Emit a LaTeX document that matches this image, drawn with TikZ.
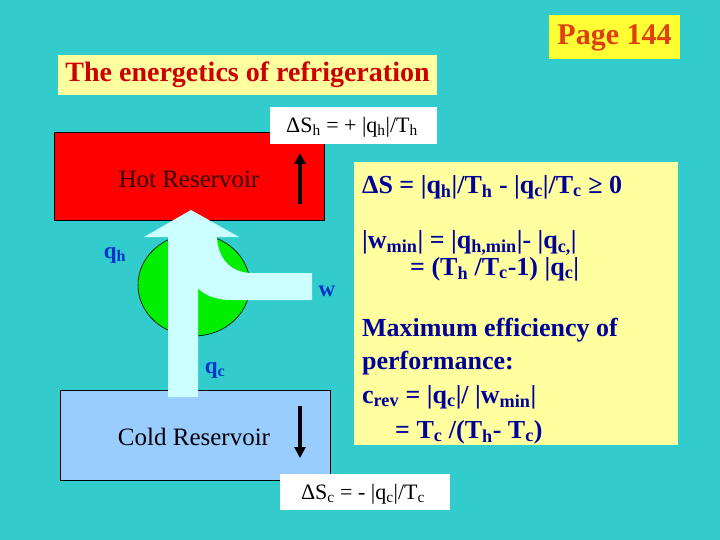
\documentclass[tikz,border=0pt]{standalone}
\usepackage{fontspec}
\setmainfont{Liberation Serif}
\usetikzlibrary{arrows.meta}
\definecolor{bgteal}{HTML}{33CCCC}
\definecolor{hotred}{HTML}{FF0000}
\definecolor{coldblue}{HTML}{99CCFF}
\definecolor{engreen}{HTML}{00EE00}
\definecolor{flowcyan}{HTML}{CCFFFF}
\definecolor{paleyel}{HTML}{FFFFA0}
\definecolor{pageyel}{HTML}{FFFF33}
\definecolor{titlered}{HTML}{CC0000}
\definecolor{pageorange}{HTML}{E04010}
\definecolor{labelblue}{HTML}{0033CC}
\definecolor{eqblue}{HTML}{000099}
\definecolor{hottext}{HTML}{330000}
\newcommand{\sbx}[1]{\textsubscript{#1}}
\tikzset{
  eqline/.style={anchor=west, inner sep=0pt, text=eqblue, font=\bfseries\fontsize{26}{30}\selectfont},
  flowlabel/.style={inner sep=0pt, text=labelblue, font=\bfseries\fontsize{23}{27}\selectfont},
  reslabel/.style={inner sep=0pt, font=\fontsize{25}{29}\selectfont},
  entlabel/.style={inner sep=0pt, font=\fontsize{22}{26}\selectfont},
  entarrow/.style={line width=4pt, -{Triangle[length=11pt,width=11pt]}}
}
\begin{document}
\begin{tikzpicture}[x=1pt,y=-1pt]
\useasboundingbox (0,0) rectangle (720,540);
\fill[bgteal] (0,0) rectangle (720,540);
% page and title
\fill[pageyel] (549,15) rectangle (680,59);
\node[inner sep=0pt, text=pageorange, font=\bfseries\fontsize{30}{34}\selectfont] (page) at (614.5,38) {Page 144};
\fill[paleyel] (58,55) rectangle (437,95);
\node[inner sep=0pt, text=titlered, font=\bfseries\fontsize{28}{32}\selectfont] (title) at (247.5,75) {The energetics of refrigeration};
% reservoirs
\draw[fill=hotred, line width=1pt] (54,133) rectangle (324,221);
\node[reslabel, text=hottext] (hot) at (189,179) {Hot Reservoir};
\draw[fill=coldblue, line width=1pt] (60,390) rectangle (330,480);
\node[reslabel, text=black] (cold) at (194,437) {Cold Reservoir};
% entropy arrows
\coordinate (hA) at (300,204);
\coordinate (hB) at (300,153);
\draw[entarrow] (hA) -- (hB);
\coordinate (cA) at (300,406);
\coordinate (cB) at (300,458);
\draw[entarrow] (cA) -- (cB);
% engine
\draw[fill=engreen, line width=0.6pt] (194,285) ellipse [x radius=56, y radius=51];
% heat/work flow arrow
\fill[flowcyan] (168,397) -- (168,237) -- (144,237) -- (191,210) -- (239,237) -- (217,237)
  .. controls (218,258) and (230,273) .. (252,273) -- (312,273) -- (312,300) -- (232,300)
  .. controls (215,300) and (204,295) .. (198,288) -- (198,397) -- cycle;
\node[flowlabel] (qh) at (115,255) {q\sbx{h}};
\node[flowlabel] (w) at (327,291) {w};
\node[flowlabel] (qc) at (215,370) {q\sbx{c}};
% entropy boxes
\fill[white] (270,107) rectangle (437,144);
\node[entlabel] (dsh) at (352,127) {ΔS\sbx{h} = + |q\sbx{h}|/T\sbx{h}};
\fill[white] (280,474) rectangle (450,510);
\node[entlabel] (dsc) at (363,494) {ΔS\sbx{c} = - |q\sbx{c}|/T\sbx{c}};
% right panel
\fill[paleyel] (354,162) rectangle (678,445);
\node[eqline] (e1) at (362,187) {ΔS = |q\sbx{h}|/T\sbx{h} - |q\sbx{c}|/T\sbx{c} ≥ 0};
\node[eqline] (e2) at (362,243) {|w\sbx{min}| = |q\sbx{h,min}|- |q\sbx{c,}|};
\node[eqline] (e3) at (410,269) {= (T\sbx{h} /T\sbx{c}-1) |q\sbx{c}|};
\node[eqline] (e4) at (362,330) {Maximum efficiency of};
\node[eqline] (e5) at (362,363) {performance:};
\node[eqline] (e6) at (362,397) {c\sbx{rev} = |q\sbx{c}|/ |w\sbx{min}|};
\node[eqline] (e7) at (395,432) {= T\sbx{c} /(T\sbx{h}- T\sbx{c})};
\end{tikzpicture}
\end{document}
